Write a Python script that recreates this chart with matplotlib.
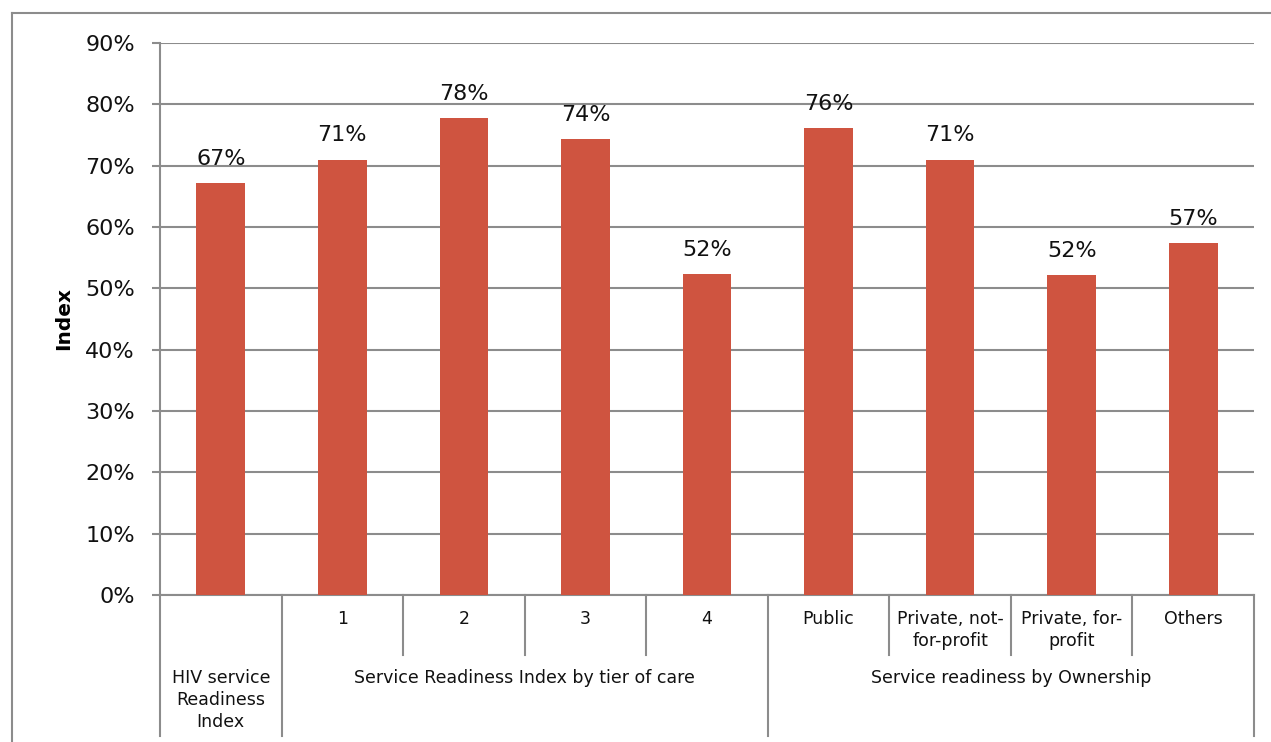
import matplotlib.pyplot as plt
from matplotlib.lines import Line2D
from matplotlib.ticker import PercentFormatter

# chart values (share of facilities)
values = [67.1, 71.0, 77.7, 74.3, 52.4, 76.2, 71.0, 52.1, 57.4]
labels = ['67%', '71%', '78%', '74%', '52%', '76%', '71%', '52%', '57%']
sub_labels = ['', '1', '2', '3', '4', 'Public', 'Private, not-\nfor-profit',
              'Private, for-\nprofit', 'Others']
group_names = ['HIV service\nReadiness\nIndex',
               'Service Readiness Index by tier of care',
               'Service readiness by Ownership']
group_starts = [0, 1, 5]
group_ends = [1, 5, 9]
yticks = [0, 10, 20, 30, 40, 50, 60, 70, 80, 90]

bar_color = '#CF5440'
grid_color = '#8C8C8C'

fig = plt.figure(figsize=(12.71, 7.42), dpi=100)
W, H = 1271, 742
ax = fig.add_axes([160 / W, 1 - 595 / H, (1254 - 160) / W, (595 - 43) / H])

x = list(range(len(values)))
ax.bar(x, values, width=0.4, color=bar_color, zorder=3)
for xi, v, lab in zip(x, values, labels):
    ax.annotate(lab, (xi, v), xytext=(0, 13), textcoords='offset points',
                ha='center', va='baseline', fontsize=16, color='#111111')

ax.set_xlim(-0.5, len(values) - 0.5)
ax.set_ylim(0, 90)
ax.set_yticks(yticks)
ax.yaxis.set_major_formatter(PercentFormatter(decimals=0))
ax.tick_params(axis='y', labelsize=16, length=6, width=1.5, color=grid_color,
               pad=12, labelcolor='#111111')
ax.set_xticks([])
ax.grid(axis='y', color=grid_color, linewidth=1.5, zorder=0)
for s in ['top', 'right']:
    ax.spines[s].set_visible(False)
ax.spines['left'].set_color(grid_color)
ax.spines['left'].set_linewidth(1.5)
ax.spines['bottom'].set_color(grid_color)
ax.spines['bottom'].set_linewidth(1.5)
ax.set_ylabel('Index', fontsize=14.5, fontweight='bold', labelpad=9)

# hierarchical category axis
trans = ax.get_xaxis_transform()
ah = 595 - 43
y_short = -(655 - 595) / ah
y_long = -(736 - 595) / ah
edges = set()
for s, e in zip(group_starts, group_ends):
    edges.add(s)
    edges.add(e)
for i in range(len(values) + 1):
    y_end = y_long if i in edges else y_short
    ax.add_line(Line2D([i - 0.5, i - 0.5], [0, y_end], transform=trans,
                       color=grid_color, linewidth=1.5, clip_on=False))

for xi, lab in zip(x, sub_labels):
    ax.text(xi, -(610 - 595) / ah, lab, transform=trans, ha='center', va='top',
            fontsize=12.5, linespacing=1.3, color='#111111')

for name, s, e in zip(group_names, group_starts, group_ends):
    ax.text((s + e - 1) / 2, -(669 - 595) / ah, name, transform=trans,
            ha='center', va='top', fontsize=12.5, linespacing=1.3, color='#111111')

# outer chart border (cropped at right and bottom)
fig.add_artist(Line2D([12 / W, 1.0], [1 - 13 / H, 1 - 13 / H], color=grid_color, linewidth=1.5))
fig.add_artist(Line2D([12 / W, 12 / W], [0, 1 - 13 / H], color=grid_color, linewidth=1.5))

fig.savefig('out.png', dpi=100)
